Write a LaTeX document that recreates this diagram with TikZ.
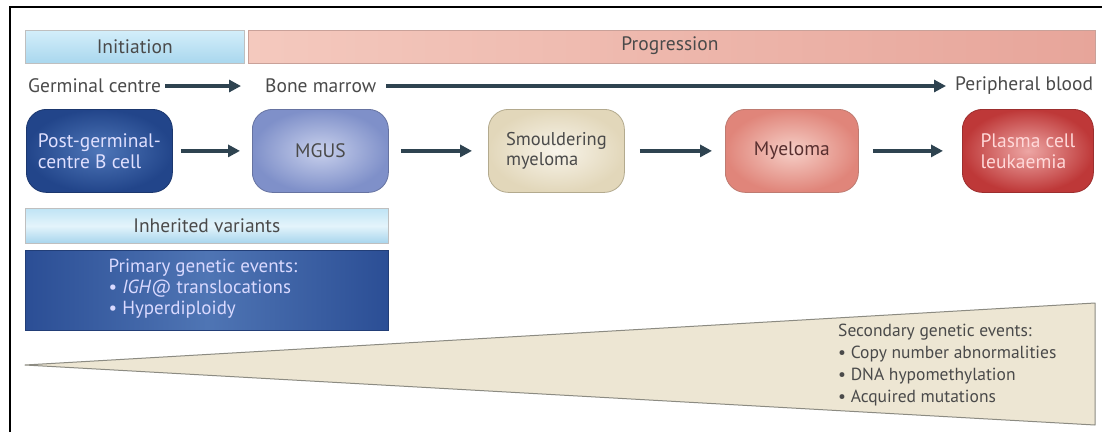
\documentclass[tikz,border=0pt]{standalone}
\usepackage{fontspec}
\setmainfont{PT Sans}
\usetikzlibrary{arrows.meta,shapes.geometric}
\definecolor{txt}{HTML}{4A4A4A}
\definecolor{arrc}{HTML}{2E4350}
\definecolor{pgO}{HTML}{22458A}
\definecolor{pgI}{HTML}{4E76B8}
\definecolor{mgO}{HTML}{7F90C9}
\definecolor{mgI}{HTML}{C8D0EC}
\definecolor{smO}{HTML}{E2D7BA}
\definecolor{smI}{HTML}{F8F4EA}
\definecolor{smB}{HTML}{B3AA8E}
\definecolor{myO}{HTML}{E0857A}
\definecolor{myI}{HTML}{F6CFC7}
\definecolor{myB}{HTML}{BE7B71}
\definecolor{pcO}{HTML}{BE3838}
\definecolor{pcI}{HTML}{EDA6A4}
\definecolor{pcB}{HTML}{9C2E2E}
\definecolor{prO}{HTML}{2B4E95}
\definecolor{prI}{HTML}{4F75B4}
\definecolor{inT}{HTML}{BFE4F5}
\definecolor{inM}{HTML}{E4F4FB}
\definecolor{inB}{HTML}{A7D5ED}
\definecolor{ini1}{HTML}{D3EEFA}
\definecolor{ini2}{HTML}{A9D7EE}
\definecolor{pr1}{HTML}{F4C9BE}
\definecolor{pr2}{HTML}{E7A59A}
\definecolor{prB}{HTML}{C9A199}
\definecolor{wed}{HTML}{EDE6D3}
\definecolor{wedB}{HTML}{8C8B82}
\tikzset{
  arr/.style={-{Triangle[length=12pt,width=12pt]},line width=3.2pt,draw=arrc},
  lbl/.style={font=\fontsize{19.5}{22}\selectfont,text=txt,inner sep=0pt},
  stage/.style={rounded corners=20pt,minimum height=83pt,align=left,font=\fontsize{19.5}{21}\selectfont,inner sep=2pt,line width=0.8pt},
  band/.style={minimum height=33pt,font=\fontsize{19.5}{22}\selectfont,text=txt,inner sep=0pt,line width=0.6pt}
}
\begin{document}
\begin{tikzpicture}[x=1pt,y=-1pt]
\useasboundingbox (0,0) rectangle (1102,432);
\fill[white] (0,0) rectangle (1102,432);
% frame
\draw[line width=2pt,black] (10,432) -- (10,7) -- (1102,7);
% top bands
\node[band,minimum width=219pt,draw=gray!50,top color=ini1,bottom color=ini2,anchor=north west] (init) at (25,30) {Initiation};
\node[band,minimum width=847pt,draw=prB,left color=pr1,right color=pr2,anchor=north west] (prog) at (248,30) {};
\node[lbl] (progt) at (670,46) {Progression};
% location row
\node[lbl,anchor=west] (gc) at (28,86) {Germinal centre};
\node[lbl,anchor=west] (bm) at (265,86) {Bone marrow};
\node[lbl,anchor=west] (pb) at (955,86) {Peripheral blood};
\draw[arr,shorten <=4pt,shorten >=24pt] (gc.east) -- (bm.west);
\draw[arr,shorten <=10pt,shorten >=9pt] (bm.east) -- (pb.west);
% stages
\node[stage,minimum width=146pt,draw=pgO!80!black,inner color=pgI,outer color=pgO,text=white!88!blue,anchor=north west] (pg) at (26,109) {Post-germinal-\\centre B cell};
\node[stage,minimum width=136pt,draw=mgO!80!black,inner color=mgI,outer color=mgO,text=txt,anchor=north west] (mgus) at (252,109) {MGUS};
\node[stage,minimum width=136pt,draw=smB,inner color=smI,outer color=smO,text=txt,anchor=north west,font=\fontsize{18.5}{20}\selectfont] (sm) at (488,109) {Smouldering\\myeloma};
\node[stage,minimum width=133pt,draw=myB,inner color=myI,outer color=myO,text=txt!80!red!80!black,anchor=north west] (my) at (725,109) {Myeloma};
\node[stage,minimum width=131pt,draw=pcB,inner color=pcI,outer color=pcO,text=white!85!red,anchor=north west] (pcl) at (962,109) {Plasma cell\\leukaemia};
\draw[arr,shorten <=8pt,shorten >=12pt] (pg.east) -- (mgus.west);
\draw[arr,shorten <=12pt,shorten >=16pt] (mgus.east) -- (sm.west);
\draw[arr,shorten <=15pt,shorten >=13pt] (sm.east) -- (my.west);
\draw[arr,shorten <=14pt,shorten >=19pt] (my.east) -- (pcl.west);
% inherited / primary
\node[band,minimum width=363pt,minimum height=35pt,draw=gray!50,top color=inT,bottom color=inB,middle color=inM,anchor=north west] (inh) at (25,208) {Inherited variants};
\node[minimum width=363pt,minimum height=80pt,draw=prO!80!black,left color=prO,right color=prO,middle color=prI,anchor=north west,inner sep=0pt] (prim) at (25,250) {};
\node[font=\fontsize{19}{21}\selectfont,text=white!85!blue,align=left,inner sep=0pt] (primt) at (203,289) {Primary genetic events:\\\textbullet\ \textit{IGH}@ translocations\\\textbullet\ Hyperdiploidy};
% wedge
\coordinate (tip) at (25,365);
\coordinate (wtr) at (1095,303);
\coordinate (wbr) at (1095,425);
\fill[wed] (tip) -- (wtr) -- (wbr) -- cycle;
\draw[wedB,line width=1pt,line join=round] (tip) -- (wtr) -- (wbr) -- cycle;
\node[font=\fontsize{17.5}{22}\selectfont,text=txt,align=left,anchor=north west,inner sep=0pt] (sec) at (838,324) {Secondary genetic events:\\\textbullet\ Copy number abnormalities\\\textbullet\ DNA hypomethylation\\\textbullet\ Acquired mutations};
\end{tikzpicture}
\end{document}
